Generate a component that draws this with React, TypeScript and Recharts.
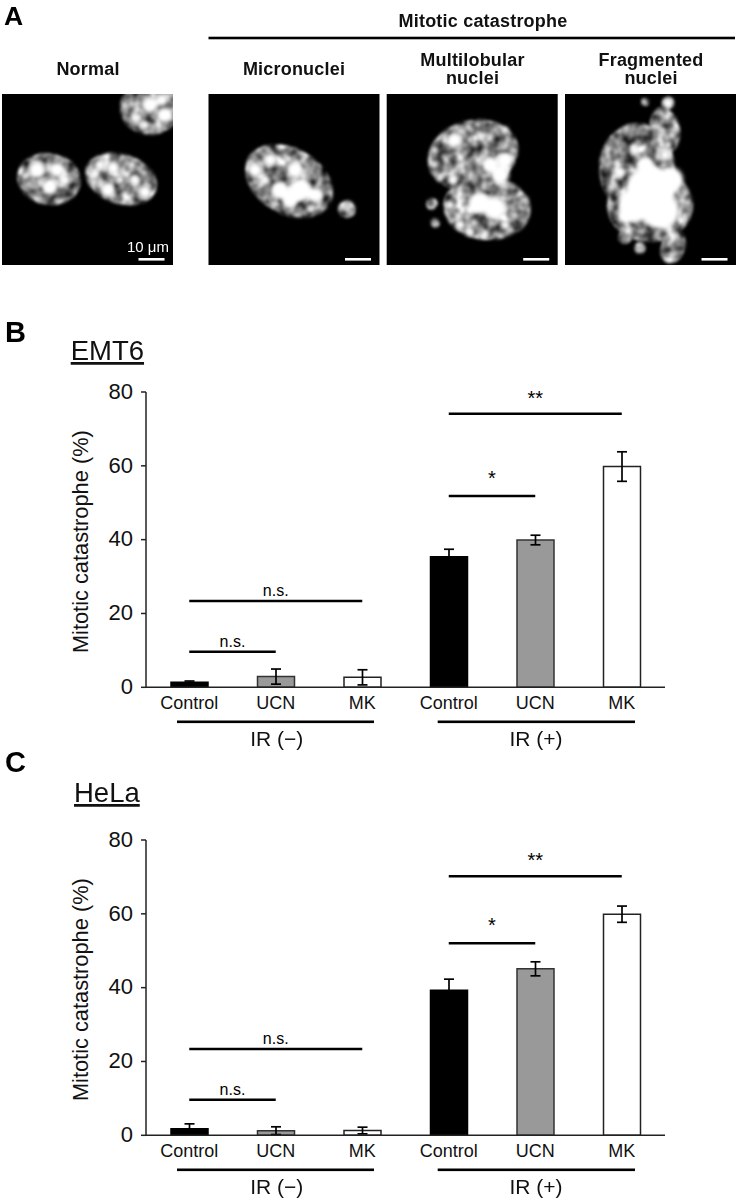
import React from 'react';
import { BarChart, Bar, Cell, XAxis, YAxis, ErrorBar, ReferenceLine, Label } from 'recharts';

const FONT = '"Liberation Sans", Arial, sans-serif';

const barKeys = ['ctl-', 'ucn-', 'mk-', 'ctl+', 'ucn+', 'mk+'];
const tickLabels = ['Control', 'UCN', 'MK', 'Control', 'UCN', 'MK'];
const yTicks = [0, 20, 40, 60, 80];
const barFills = ['#000000', '#999999', '#ffffff', '#000000', '#999999', '#ffffff'];
const barStrokes = ['#000000', '#333333', '#222222', '#000000', '#333333', '#222222'];

const emt6Values = [1.35, 2.9, 2.7, 35.4, 39.9, 59.8];
const emt6Errors = [0.35, 2.05, 2.05, 2, 1.3, 4];
const helaValues = [1.8, 1.25, 1.3, 39.3, 45.1, 59.9];
const helaErrors = [1.3, 1.05, 0.9, 3, 1.9, 2.2];

// significance brackets: from, to, height on the y scale, label
const emt6Sig: [string, string, number, string][] = [
  ['ctl-', 'ucn-', 9.6, 'n.s.'],
  ['ctl-', 'mk-', 23.4, 'n.s.'],
  ['ctl+', 'ucn+', 51.8, '*'],
  ['ctl+', 'mk+', 74.1, '**'],
];
const helaSig: [string, string, number, string][] = [
  ['ctl-', 'ucn-', 9.6, 'n.s.'],
  ['ctl-', 'mk-', 23.4, 'n.s.'],
  ['ctl+', 'ucn+', 52, '*'],
  ['ctl+', 'mk+', 70.2, '**'],
];
const sigOffsets: Record<string, number> = { 'n.s.': 5, '*': 11, '**': 9 };

// micrograph panels: left edge of each black square
const panelLefts = [2, 208.5, 386.7, 565];
const panelTop = 94;
const panelSize = 171;

// nuclei outlines [cx, cy, rx, ry, rotation]
const nuclei: number[][] = [
  [49, 179, 32, 26, 10], [121, 179, 37, 25, 18], [150, 108, 30, 27, 0],
  [289, 181, 47, 33, 30], [347, 209, 9, 9, 0],
  [473, 155, 46, 35, -15], [487, 208, 44, 32, 5], [432, 204, 6, 6, 0], [435, 223, 5, 5, 0],
  [637, 168, 38, 45, 0], [650, 205, 43, 37, 0], [665, 130, 15, 23, -10], [645, 102, 4, 4, 0], [668, 103, 6, 6, 0],
  [625, 237, 7, 7, 0], [640, 248, 6, 6, 0], [673, 247, 12, 17, 20],
];

// bright chromatin patches [cx, cy, r]
const patches: number[][] = [
  [37, 170, 8], [57, 170, 7], [50, 187, 7], [65, 180, 5], [40, 183, 3], [30, 185, 2],
  [100, 165, 5], [113, 168, 6], [108, 190, 7], [135, 180, 5], [145, 192, 6], [132, 165, 3], [120, 180, 4], [95, 174, 4],
  [150, 105, 8], [135, 118, 4], [165, 115, 7], [145, 125, 4], [162, 100, 6],
  [255, 170, 7], [270, 160, 6], [295, 170, 8], [300, 190, 11], [280, 190, 9], [315, 195, 7], [290, 200, 8], [265, 180, 4], [310, 209, 3],
  [347, 205, 2], [351, 213, 2],
  [455, 140, 7], [480, 135, 3], [505, 130, 3], [490, 165, 8], [505, 160, 8], [500, 175, 9], [435, 165, 3], [440, 178, 3], [453, 180, 5], [470, 140, 3], [435, 150, 3],
  [480, 203, 11], [495, 208, 11], [470, 210, 5], [450, 205, 4], [525, 200, 3], [460, 225, 5], [470, 232, 4], [485, 235, 3], [505, 225, 4], [515, 215, 3],
  [650, 190, 24], [635, 205, 17], [660, 210, 19], [670, 180, 13], [625, 215, 7], [620, 172, 5], [635, 150, 4], [645, 165, 9], [665, 155, 5], [612, 187, 3], [665, 225, 5],
  [662, 130, 3], [672, 135, 3], [668, 145, 3], [645, 102, 2], [668, 103, 5],
];

function RatePanel({ top, values, errors, sig }: { top: number; values: number[]; errors: number[]; sig: [string, string, number, string][] }) {
  const rows = barKeys.map((key, i) => ({ key, value: values[i], err: errors[i] }));
  return (
    <div style={{ position: 'absolute', left: 0, top }}>
      <BarChart width={738} height={360} data={rows} barSize={37} margin={{ top: 20, right: 73, bottom: 4.7, left: 0 }}>
        <XAxis
          dataKey="key"
          height={40}
          interval={0}
          tickLine={false}
          stroke="#222"
          strokeWidth={1.5}
          tickFormatter={(_: string, i: number) => tickLabels[i]}
          tick={{ fontSize: 18, fill: '#111', fontFamily: FONT }}
          tickMargin={3}
        />
        <YAxis
          width={146}
          domain={[0, 80]}
          ticks={yTicks}
          stroke="#222"
          strokeWidth={1.5}
          tickSize={5}
          tickMargin={8}
          tick={{ fontSize: 22, fill: '#111', fontFamily: FONT, dy: -1 }}
        >
          <Label
            value="Mitotic catastrophe (%)"
            angle={-90}
            position="insideLeft"
            offset={0}
            dx={80}
            dy={2}
            style={{ fontSize: 21.8, fill: '#111', fontFamily: FONT, textAnchor: 'middle' }}
          />
        </YAxis>
        {sig.map(([from, to, y, text]) => (
          <ReferenceLine
            key={from + to}
            segment={[{ x: from, y }, { x: to, y }]}
            stroke="#000"
            strokeWidth={2.5}
            label={{
              value: text,
              position: 'top',
              offset: sigOffsets[text],
              fill: '#000',
              fontSize: text === 'n.s.' ? 16 : 20,
              fontFamily: FONT,
            }}
          />
        ))}
        <Bar dataKey="value" strokeWidth={1.5} isAnimationActive={false}>
          {rows.map((r, i) => (
            <Cell key={r.key} fill={barFills[i]} stroke={barStrokes[i]} />
          ))}
          <ErrorBar dataKey="err" direction="y" width={5} stroke="#000" strokeWidth={1.7} isAnimationActive={false} />
        </Bar>
      </BarChart>
    </div>
  );
}

function GroupMarks({ dy }: { dy: number }) {
  return (
    <g fontFamily={FONT} fill="#111" fontSize={21}>
      <rect x={177} y={720.5 + dy} width={197} height={2.6} fill="#000" />
      <rect x={437.7} y={720.5 + dy} width={197.3} height={2.6} fill="#000" />
      <text x={276.7} y={746 + dy} textAnchor="middle">IR (−)</text>
      <text x={536} y={746 + dy} textAnchor="middle">IR (+)</text>
    </g>
  );
}

export default function App() {
  return (
    <div style={{ position: 'absolute', left: 0, top: 0, width: 738, height: 1200, background: '#fff' }}>
      <RatePanel top={372} values={emt6Values} errors={emt6Errors} sig={emt6Sig} />
      <RatePanel top={820} values={helaValues} errors={helaErrors} sig={helaSig} />
      <svg width={738} height={1200} style={{ position: 'absolute', left: 0, top: 0, pointerEvents: 'none' }}>
        <defs>
          <filter id="mottle" filterUnits="userSpaceOnUse" x={0} y={90} width={738} height={180} colorInterpolationFilters="sRGB">
            <feGaussianBlur in="SourceAlpha" stdDeviation="1.6" result="edge" />
            <feTurbulence type="fractalNoise" baseFrequency="0.09" numOctaves="2" seed="4" />
            <feColorMatrix type="matrix" values="1.5 0 0 0 -0.22  1.5 0 0 0 -0.22  1.5 0 0 0 -0.22  0 0 0 0 1" />
            <feGaussianBlur stdDeviation="1" />
            <feComposite operator="in" in2="edge" />
          </filter>
          <filter id="glow" filterUnits="userSpaceOnUse" x={0} y={90} width={738} height={180}>
            <feGaussianBlur stdDeviation="2.2" />
          </filter>
          <clipPath id="panels">
            {panelLefts.map(x => <rect key={x} x={x} y={panelTop} width={panelSize} height={panelSize} />)}
          </clipPath>
        </defs>

        {panelLefts.map(x => <rect key={x} x={x} y={panelTop} width={panelSize} height={panelSize} fill="#000" />)}
        <g clipPath="url(#panels)">
          <g filter="url(#mottle)" fill="#fff">
            {nuclei.map(([cx, cy, rx, ry, rot], i) => (
              <ellipse key={i} cx={cx} cy={cy} rx={rx} ry={ry} transform={`rotate(${rot} ${cx} ${cy})`} />
            ))}
          </g>
          <g filter="url(#glow)" fill="#fff">
            {patches.map(([cx, cy, r], i) => <circle key={i} cx={cx} cy={cy} r={r} />)}
          </g>
        </g>

        {panelLefts.map(x => <rect key={x} x={x + 136.5} y={258} width={26} height={2.6} fill="#fff" />)}
        <text x={127} y={252} fill="#fff" fontSize={15} fontFamily={FONT}>10 μm</text>

        <g fontFamily={FONT} fontWeight="bold" fill="#111" fontSize={18} letterSpacing={0.2} textAnchor="middle">
          <text x={483} y={27}>Mitotic catastrophe</text>
          <text x={88} y={75}>Normal</text>
          <text x={294} y={75}>Micronuclei</text>
          <text x={472.5} y={66}>Multilobular</text>
          <text x={472.5} y={84}>nuclei</text>
          <text x={651} y={66}>Fragmented</text>
          <text x={651} y={84}>nuclei</text>
        </g>
        <rect x={208.5} y={36.7} width={526.5} height={2.6} fill="#000" />

        <g fontFamily={FONT} fontWeight="bold" fill="#000" fontSize={29}>
          <text x={4} y={24.5} fontSize={26.5}>A</text>
          <text x={5} y={342}>B</text>
          <text x={5} y={772}>C</text>
        </g>

        <g fontFamily={FONT} fill="#111" fontSize={27.5} textDecoration="underline">
          <text x={70.7} y={360}>EMT6</text>
          <text x={74} y={802}>HeLa</text>
        </g>

        <GroupMarks dy={0} />
        <GroupMarks dy={448} />
      </svg>
    </div>
  );
}
